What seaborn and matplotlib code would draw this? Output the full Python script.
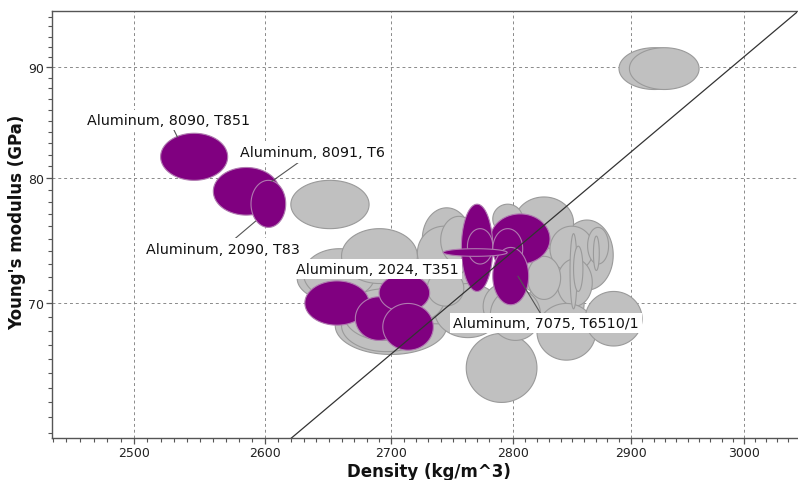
import numpy as np
import matplotlib
matplotlib.use("Agg")
import matplotlib.pyplot as plt
import seaborn as sns
from matplotlib.ticker import FixedLocator, NullFormatter, FuncFormatter

# ---------------- data ----------------
# gray (other materials): density range kg/m^3, Young's modulus range GPa
gray_density_lo = [2625, 2655, 2700, 2735, 2800, 2840, 2812, 2725,
                   2630, 2660, 2721, 2740, 2660, 2662, 2707, 2729, 2801, 2783, 2831, 2863, 2837, 2812,
                   2761, 2775, 2781, 2820, 2861, 2848, 2851, 2868, 2620, 2890, 2899]
gray_density_hi = [2700, 2745, 2775, 2790, 2870, 2885, 2860, 2765,
                   2687, 2721, 2765, 2770, 2732, 2727, 2744, 2759, 2851, 2808, 2868, 2881, 2867, 2840,
                   2820, 2810, 2823, 2870, 2910, 2854, 2859, 2873, 2682, 2952, 2960]
gray_modulus_lo = [70.0, 66.3, 68.5, 67.5, 70.5, 71.0, 68.0, 72.5,
                   70.3, 71.5, 71.8, 73.0, 66.5, 67.3, 68.8, 69.8, 74.2, 75.4, 72.4, 73.0, 69.8, 70.3,
                   63.0, 68.1, 67.3, 65.9, 66.9, 69.6, 70.9, 72.5, 75.8, 87.9, 87.9]
gray_modulus_hi = [73.8, 70.5, 73.5, 71.5, 75.5, 76.5, 72.0, 77.5,
                   74.2, 75.8, 76.0, 76.8, 70.3, 71.1, 72.6, 72.5, 78.4, 77.8, 76.0, 75.9, 73.4, 73.6,
                   67.8, 71.5, 71.1, 70.0, 70.9, 75.4, 74.4, 75.2, 79.8, 91.9, 91.9]

# highlighted aluminium alloys
hl_density_lo = [2520, 2560, 2589, 2631, 2671, 2690, 2693, 2781, 2757, 2762, 2783, 2783, 2742]
hl_density_hi = [2571, 2611, 2616, 2682, 2709, 2731, 2734, 2831, 2783, 2783, 2808, 2813, 2795]
hl_modulus_lo = [79.8, 76.9, 75.9, 68.4, 67.3, 69.4, 66.6, 73.0, 70.9, 73.0, 72.6, 69.9, 73.6]
hl_modulus_hi = [83.9, 80.9, 79.8, 71.7, 70.5, 72.2, 70.0, 77.0, 77.8, 75.8, 75.8, 74.3, 74.2]

# labels: text, label centre, leader target (None = no leader)
label_texts = ["Aluminum, 8090, T851", "Aluminum, 8091, T6", "Aluminum, 2090, T83",
               "Aluminum, 2024, T351", "Aluminum, 7075, T6510/1"]
label_density = [2526.3, 2637, 2567.6, 2688.8, 2827.9]
label_modulus = [85.1, 82.2, 74.21, 72.6, 68.56]
leader_density = [2532.7, 2605, 2592.6, None, 2804]
leader_modulus = [83.56, 79.7, 76.41, None, 72.06]

# guideline E ~ rho^3
guide_density = [2600, 3060]
guide_anchor_density = 2800
guide_anchor_modulus = 74.0
guide_power = 3

x_major = [2500, 2600, 2700, 2800, 2900, 3000]
y_major = [70, 80, 90]
x_lim = (2439.5, 3047.9)
y_lim = (60.66, 95.56)

# ---------------- plot ----------------
sns.set_style("white")
plt.rcParams['font.family'] = ['DejaVu Sans']

W, H = 798, 481
fig = plt.figure(figsize=(W / 100, H / 100), dpi=100)
ax = fig.add_axes([52 / W, 1 - 439 / H, (797 - 52) / W, (439 - 12) / H])
ax.set_xscale("log")
ax.set_yscale("log")
ax.set_xlim(*x_lim)
ax.set_ylim(*y_lim)


def ellipse_pts(x0, x1, y0, y1, n=120):
    t = np.linspace(0, 2 * np.pi, n)
    lx0, lx1, ly0, ly1 = np.log(x0), np.log(x1), np.log(y0), np.log(y1)
    return (np.exp((lx0 + lx1) / 2 + (lx1 - lx0) / 2 * np.cos(t)),
            np.exp((ly0 + ly1) / 2 + (ly1 - ly0) / 2 * np.sin(t)))


for a, b, c, d in zip(gray_density_lo, gray_density_hi, gray_modulus_lo, gray_modulus_hi):
    ex, ey = ellipse_pts(a, b, c, d)
    ax.fill(ex, ey, facecolor="#c0c0c0", edgecolor="#9a9a9a", linewidth=0.8, zorder=2)

for a, b, c, d in zip(hl_density_lo, hl_density_hi, hl_modulus_lo, hl_modulus_hi):
    ex, ey = ellipse_pts(a, b, c, d)
    ax.fill(ex, ey, facecolor="#800080", edgecolor="#b07ab0", linewidth=0.8, zorder=3)

gx = np.array(guide_density, dtype=float)
gy = guide_anchor_modulus * (gx / guide_anchor_density) ** guide_power
sns.lineplot(x=gx, y=gy, ax=ax, color="#333333", linewidth=0.9, zorder=4)

for txt, lx, ly, tx, ty in zip(label_texts, label_density, label_modulus, leader_density, leader_modulus):
    bbox = dict(boxstyle="square,pad=0.22", facecolor="white", edgecolor="none")
    if tx is None:
        ax.text(lx, ly, txt, ha="center", va="center", fontsize=10.3, color="#111111",
                bbox=bbox, zorder=6)
    else:
        ax.annotate(txt, xy=(tx, ty), xytext=(lx, ly), ha="center", va="center",
                    fontsize=10.3, color="#111111", bbox=bbox, zorder=6,
                    arrowprops=dict(arrowstyle="-", color="#555555", lw=0.8,
                                    shrinkA=0, shrinkB=0))

# ticks
ax.xaxis.set_major_locator(FixedLocator(x_major))
ax.xaxis.set_minor_locator(FixedLocator([v for v in range(2440, 3050, 10) if v not in x_major]))
ax.yaxis.set_major_locator(FixedLocator(y_major))
ax.yaxis.set_minor_locator(FixedLocator([v for v in range(61, 96) if v not in y_major]))
fmt = FuncFormatter(lambda v, p: f"{v:.0f}")
ax.xaxis.set_major_formatter(fmt)
ax.yaxis.set_major_formatter(fmt)
ax.xaxis.set_minor_formatter(NullFormatter())
ax.yaxis.set_minor_formatter(NullFormatter())
ax.tick_params(which="major", direction="out", length=4, width=0.9, color="#555555",
               labelsize=9, labelcolor="#222222", pad=2)
ax.tick_params(which="minor", direction="out", length=3, width=0.8, color="#555555")
ax.tick_params(axis="x", bottom=True, which="both")
ax.tick_params(axis="y", left=True, which="both")

ax.grid(True, which="major", linestyle=(0, (3, 3)), color="#8a8a8a", linewidth=0.7, zorder=1)
ax.set_axisbelow(True)

for side in ["left", "bottom", "top"]:
    ax.spines[side].set_color("#555555")
    ax.spines[side].set_linewidth(1.0)
ax.spines["right"].set_visible(False)

ax.set_xlabel("Density (kg/m^3)", fontsize=12, fontweight="bold", color="#111111")
ax.set_ylabel("Young's modulus (GPa)", fontsize=12, fontweight="bold", color="#111111")
ax.xaxis.set_label_coords(0.506, -0.056)
ax.yaxis.set_label_coords(-0.035, 0.507)

fig.savefig("out.png", dpi=100)
